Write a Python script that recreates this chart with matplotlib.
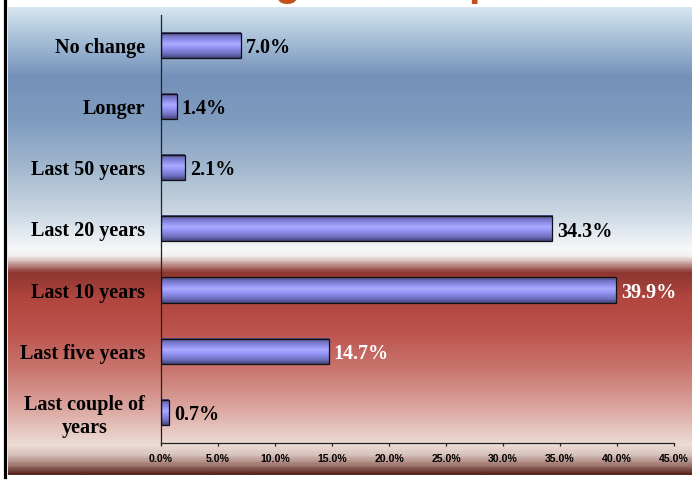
import matplotlib.pyplot as plt
import numpy as np
from matplotlib.colors import LinearSegmentedColormap
from matplotlib.lines import Line2D

categories = ['No change', 'Longer', 'Last 50 years', 'Last 20 years',
              'Last 10 years', 'Last five years', 'Last couple of\nyears']
shares = [7.0, 1.4, 2.1, 34.3, 39.9, 14.7, 0.7]
x_ticks = [0, 5, 10, 15, 20, 25, 30, 35, 40, 45]
dark_rows = ['Last 10 years', 'Last five years']   # value labels drawn in white

W, H = 692, 501
fig = plt.figure(figsize=(W / 100, H / 100), dpi=100)
fig.patch.set_facecolor('white')

# slide background panel: blue band on top, red band below
bg = fig.add_axes([8 / W, (H - 475) / H, (W - 8) / W, (475 - 7) / H])
stops = [(7, '#d8e6f1'), (30, '#b2c9de'), (77, '#7591ba'), (120, '#7f9cbf'),
         (170, '#a4b9cf'), (215, '#cdd9e4'), (250, '#f7f8fa'), (257, '#f3eeed'),
         (273, '#8c3731'), (300, '#b2463f'), (330, '#bb524c'), (370, '#c9756e'),
         (410, '#dba7a0'), (446, '#eedcd6'), (456, '#d7c2bc'), (466, '#a27a72'),
         (475, '#5a2620')]
pos = [(y - 7) / 468 for y, _ in stops]
bg_cmap = LinearSegmentedColormap.from_list('bg', list(zip(pos, [c for _, c in stops])))
bg.imshow(np.linspace(0, 1, 600)[:, None], aspect='auto', cmap=bg_cmap,
          extent=[0, 1, 0, 1], interpolation='bilinear')
bg.axis('off')

# black rule on the left edge
fig.add_artist(Line2D([4.5 / W, 4.5 / W], [(H - 477) / H, 1], color='black', lw=2.3))

# bits of the slide title, cut off by the top edge as in the source
title_kw = dict(color='#c4501c', fontsize=30, fontweight='bold',
                family='Liberation Sans', va='baseline')
fig.text(287 / W, (H + 5.5) / H, 'g', ha='center', **title_kw)
fig.text(468 / W, (H + 5.5) / H, 'p', ha='left', **title_kw)

ax = fig.add_axes([161 / W, (H - 443) / H, (674 - 161) / W, (443 - 14.6) / H])
ax.patch.set_alpha(0)

y = np.arange(len(categories))
bars = ax.barh(y, shares, height=0.41, color='none', edgecolor='#111111',
               linewidth=0.9, zorder=3)

bar_cmap = LinearSegmentedColormap.from_list(
    'bar', [(0, '#46467a'), (0.15, '#7474c8'), (0.35, '#9898f6'),
            (0.45, '#ababff'), (0.6, '#9494f6'), (0.85, '#6e6ebc'), (1, '#44447a')])
grad = np.linspace(0, 1, 50)[:, None]
for b in bars:
    x0, y0, w, h = b.get_x(), b.get_y(), b.get_width(), b.get_height()
    ax.imshow(grad, extent=[x0, x0 + w, y0 + h, y0], aspect='auto',
              cmap=bar_cmap, zorder=2, interpolation='bilinear')

for i, (cat, v) in enumerate(zip(categories, shares)):
    ax.annotate(f'{v:.1f}%', xy=(v, i), xytext=(3.5, -2), textcoords='offset points',
                va='center', ha='left', fontsize=14.5, fontweight='bold',
                family='Liberation Serif',
                color='white' if cat in dark_rows else 'black')

ax.set_xlim(0, 45)
ax.set_ylim(len(categories) - 0.5, -0.5)

ax.set_yticks(y)
ax.set_yticklabels(categories, fontsize=14.5, fontweight='bold',
                   family='Liberation Serif', multialignment='center')
ax.tick_params(axis='y', length=0, pad=11.5)

ax.set_xticks(x_ticks)
ax.set_xticklabels([f'{t:.1f}%' for t in x_ticks], fontsize=7.6, fontweight='bold',
                   family='Liberation Sans')
ax.tick_params(axis='x', direction='out', length=2.2, width=0.9,
               color='#222222', pad=5.5)

for s in ['top', 'right']:
    ax.spines[s].set_visible(False)
for s in ['left', 'bottom']:
    ax.spines[s].set_color('#222222')
    ax.spines[s].set_linewidth(0.9)

fig.savefig('out.png', dpi=100)
